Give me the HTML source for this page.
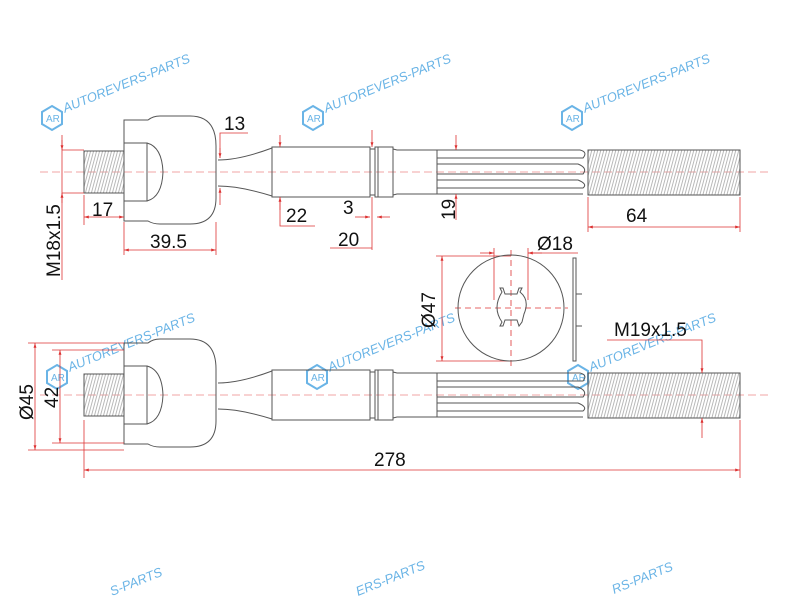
<!DOCTYPE html>
<html><head><meta charset="utf-8"><style>
html,body{margin:0;padding:0;background:#fff;width:800px;height:600px;overflow:hidden}
svg{display:block}
text{font-family:"Liberation Sans",sans-serif}
.d{fill:#111;font-size:19px}
.w{fill:#6ab4e6;font-size:13px;font-style:italic}
</style></head><body>
<svg width="800" height="600" viewBox="0 0 800 600" xmlns="http://www.w3.org/2000/svg">
<defs>
<pattern id="h" width="3" height="10" patternUnits="userSpaceOnUse" patternTransform="skewX(-15)">
<line x1="1" y1="0" x2="1" y2="10" stroke="#999" stroke-width="0.7"/>
</pattern>
<marker id="a" viewBox="0 0 10 10" refX="10" refY="5" markerWidth="6" markerHeight="6" orient="auto-start-reverse"><path d="M0,2 L10,5 L0,8z" fill="#d33"/></marker>
<g id="rod" fill="#fff" stroke="#555" stroke-width="1">
<line x1="40" y1="0" x2="770" y2="0" stroke="#e88" stroke-dasharray="8,4" stroke-width="0.8"/>
<rect x="84" y="-21" width="40" height="42" fill="url(#h)"/>
<path d="M124,-52 L148,-52 Q153,-56 160,-56 L190,-56 Q216,-56 216,-26 L216,26 Q216,52 190,52 L160,52 Q153,52 148,49 L124,49 Z" fill="none"/>
<rect x="124" y="-29" width="23" height="58" fill="none"/>
<path d="M147,-29 Q162,-25 163,0 Q162,25 147,29" fill="none"/>
<path d="M218,-12 Q240,-12 272,-24 M218,14 Q240,14 272,24" fill="none"/>
<rect x="272" y="-25" width="98" height="50" fill="none"/>
<rect x="370" y="-23" width="5" height="46" fill="none"/>
<rect x="375" y="-25" width="18" height="50" fill="none"/>
<line x1="378" y1="-25" x2="378" y2="25"/>
<path d="M393,-23 L397,-22 L437,-22 L437,22 L397,22 L393,23" fill="none"/>
<path d="M437,-22 L580,-22 Q588,-20 583,-14 L437,-14 M437,-8 L578,-8 Q588,-4 583,2 L437,2 M437,8 L578,8 Q588,12 583,16 L437,16 M437,22 L583,22" fill="none"/>
<rect x="588" y="-22" width="152" height="45" fill="url(#h)"/>
</g>
<g id="wm">
<path d="M0,-12 L10,-6 L10,6 L0,12 L-10,6 L-10,-6Z" fill="none" stroke="#6ab4e6" stroke-width="2"/>
<text x="-6" y="4" fill="#6ab4e6" font-size="10" font-family="Liberation Sans">AR</text>
<text x="14" y="0" transform="rotate(-22)" class="w">AUTOREVERS-PARTS</text>
</g>
</defs>
<use href="#wm" x="52" y="118"/>
<use href="#wm" x="313" y="118"/>
<use href="#wm" x="572" y="118"/>
<use href="#wm" x="57" y="377"/>
<use href="#wm" x="317" y="377"/>
<use href="#wm" x="578" y="377"/>
<text x="112" y="596" transform="rotate(-22 112 596)" class="w">S-PARTS</text>
<text x="358" y="596" transform="rotate(-22 358 596)" class="w">ERS-PARTS</text>
<text x="614" y="594" transform="rotate(-22 614 594)" class="w">RS-PARTS</text>

<use href="#rod" x="0" y="172"/>
<use href="#rod" x="0" y="395"/>

<g stroke="#d33" stroke-width="0.8" fill="none">
<line x1="62" y1="135" x2="62" y2="280"/>
<line x1="62" y1="150" x2="84" y2="150"/><line x1="62" y1="193" x2="84" y2="193"/>
<line x1="62" y1="140" x2="62" y2="150" marker-end="url(#a)"/>
<line x1="62" y1="203" x2="62" y2="193" marker-end="url(#a)"/>
<line x1="84" y1="195" x2="84" y2="225"/>
<line x1="84" y1="217" x2="124" y2="217" marker-start="url(#a)" marker-end="url(#a)"/>
<line x1="124" y1="222" x2="124" y2="255"/><line x1="216" y1="222" x2="216" y2="255"/>
<line x1="124" y1="250" x2="216" y2="250" marker-start="url(#a)" marker-end="url(#a)"/>
<path d="M248,133 L220,133 L220,158"/><line x1="220" y1="148" x2="220" y2="158" marker-end="url(#a)"/>
<line x1="220" y1="205" x2="220" y2="188" marker-end="url(#a)"/>
<line x1="280" y1="135" x2="280" y2="147" marker-end="url(#a)"/>
<path d="M280,197 L280,226 L315,226"/><line x1="280" y1="210" x2="280" y2="197" marker-end="url(#a)"/>
<line x1="372" y1="130" x2="372" y2="147" marker-end="url(#a)"/>
<line x1="372" y1="197" x2="372" y2="250"/>
<line x1="330" y1="248" x2="372" y2="248"/>
<line x1="355" y1="217" x2="370" y2="217" marker-end="url(#a)"/>
<line x1="390" y1="217" x2="377" y2="217" marker-end="url(#a)"/>
<line x1="456" y1="135" x2="456" y2="150" marker-end="url(#a)"/>
<line x1="456" y1="220" x2="456" y2="194" marker-end="url(#a)"/>
<line x1="588" y1="197" x2="588" y2="232"/><line x1="740" y1="197" x2="740" y2="232"/>
<line x1="588" y1="227" x2="740" y2="227" marker-start="url(#a)" marker-end="url(#a)"/>
<line x1="28" y1="343" x2="124" y2="343"/><line x1="28" y1="450" x2="124" y2="450"/>
<line x1="35" y1="343" x2="35" y2="450" marker-start="url(#a)" marker-end="url(#a)"/>
<line x1="52" y1="350" x2="124" y2="350"/><line x1="52" y1="443" x2="124" y2="443"/>
<line x1="60" y1="350" x2="60" y2="443" marker-start="url(#a)" marker-end="url(#a)"/>
<line x1="84" y1="420" x2="84" y2="478"/><line x1="740" y1="420" x2="740" y2="478"/>
<line x1="84" y1="470" x2="740" y2="470" marker-start="url(#a)" marker-end="url(#a)"/>
<path d="M607,340 L702,340 L702,373"/><line x1="702" y1="360" x2="702" y2="373" marker-end="url(#a)"/>
<line x1="702" y1="438" x2="702" y2="418" marker-end="url(#a)"/>
<line x1="436" y1="256" x2="511" y2="256"/><line x1="436" y1="361" x2="511" y2="361"/>
<line x1="442" y1="256" x2="442" y2="361" marker-start="url(#a)" marker-end="url(#a)"/>
<line x1="494" y1="248" x2="494" y2="300"/><line x1="528" y1="248" x2="528" y2="300"/>
<line x1="480" y1="253" x2="494" y2="253" marker-end="url(#a)"/>
<line x1="542" y1="253" x2="528" y2="253" marker-end="url(#a)"/>
<line x1="528" y1="253" x2="578" y2="253"/>
<line x1="455" y1="308" x2="568" y2="308" stroke-dasharray="6,4"/>
<line x1="511" y1="250" x2="511" y2="366" stroke-dasharray="6,4"/>
</g>
<g stroke="#555" fill="none" stroke-width="1">
<circle cx="511" cy="308" r="53"/>
<path d="M502,292 L500,288 L503,288 L505,294 L517,294 L519,288 L522,288 L520,292 Q530,300 524,314 L522,322 L519,326 L517,320 L505,320 L503,326 L500,326 L502,322 Q492,308 502,292Z"/>
<rect x="573" y="258" width="3" height="103"/>
<line x1="576" y1="294" x2="582" y2="294"/><line x1="576" y1="326" x2="582" y2="326"/>
</g>
<text class="d" x="224" y="130">13</text>
<text class="d" x="92" y="216">17</text>
<text class="d" x="150" y="248">39.5</text>
<text class="d" x="286" y="222">22</text>
<text class="d" x="343" y="214">3</text>
<text class="d" x="338" y="246">20</text>
<text class="d" x="626" y="222">64</text>
<text class="d" transform="translate(455,220) rotate(-90)">19</text>
<text class="d" transform="translate(60,277) rotate(-90)">M18x1.5</text>
<text class="d" x="537" y="250">Ø18</text>
<text class="d" transform="translate(435,328) rotate(-90)">Ø47</text>
<text class="d" x="614" y="336">M19x1.5</text>
<text class="d" transform="translate(33,420) rotate(-90)">Ø45</text>
<text class="d" transform="translate(58,408) rotate(-90)">42</text>
<text class="d" x="374" y="466">278</text>
</svg>
</body></html>
